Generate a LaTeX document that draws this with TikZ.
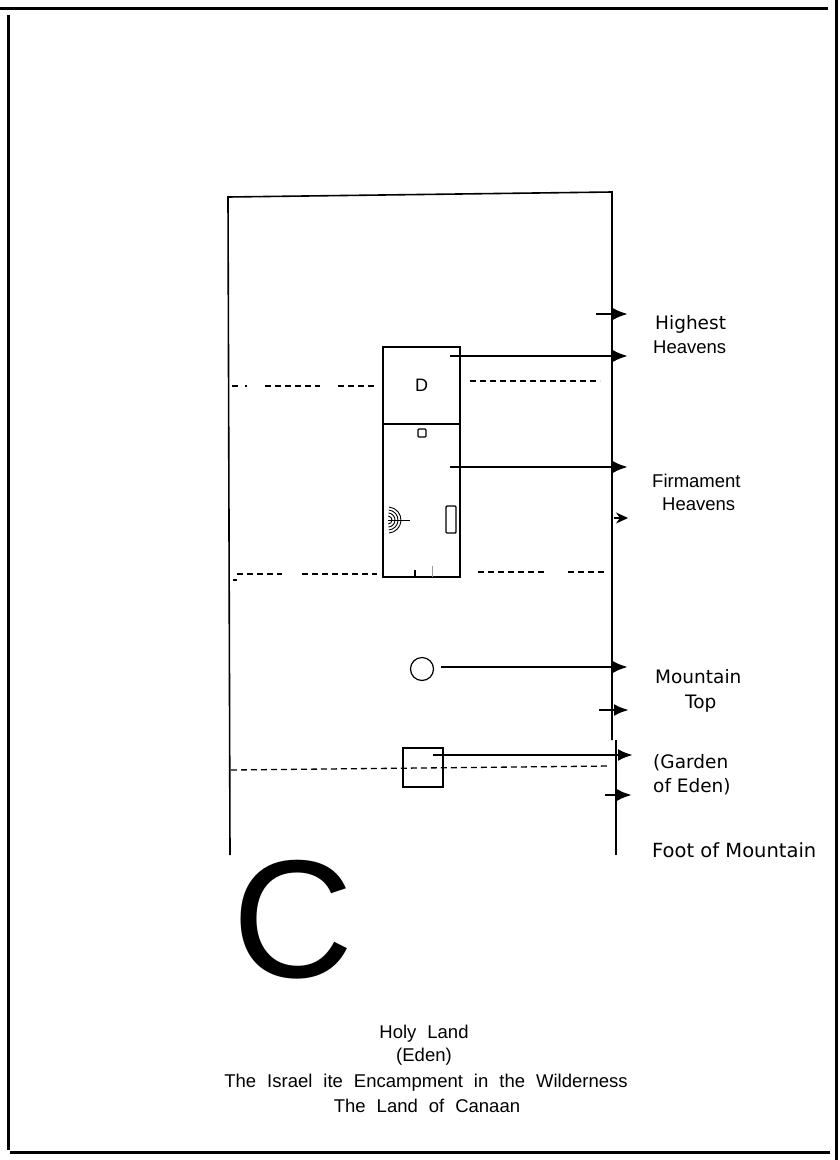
\documentclass[tikz,border=0pt]{standalone}
\usepackage{fontspec}
\setmainfont{Liberation Sans}
\newfontfamily\humanist{DejaVu Sans}
\usetikzlibrary{arrows.meta}
\tikzstyle{frame} = [line width=3pt]
\tikzstyle{wall} = [line width=1.6pt]
\tikzstyle{room} = [draw, line width=2.6pt, inner sep=0pt]
\tikzstyle{ray} = [line width=2.6pt, -{Latex[length=15pt,width=12pt]}]
\tikzstyle{tick} = [line width=1.2pt, -{Stealth[length=12pt,width=11pt]}]
\tikzstyle{level} = [line width=1.1pt, dash pattern=on 6pt off 4pt]
\tikzstyle{tag} = [font={\fontsize{18.5}{22}\selectfont}, inner sep=0pt]
\tikzstyle{hum} = [font={\humanist\fontsize{18.5}{22}\selectfont}, inner sep=0pt]
\tikzstyle{wide} = [font={\fontsize{18.5}{22}\selectfont\spaceskip=11pt plus 2pt}, inner sep=0pt]

\begin{document}
\begin{tikzpicture}[x=1pt,y=-1pt]
  \useasboundingbox (0,0) rectangle (840,1160);
  % page frame
  \draw[frame] (0,8) -- (828,8);
  \draw[frame] (8,15) -- (8,1150);
  \draw[frame] (836,0) -- (836,1160);
  \draw[frame] (10,1152) -- (830,1152);
  % mountain
  \coordinate (footl) at (230,855);
  \coordinate (topl) at (228,197);
  \coordinate (topr) at (612,192);
  \coordinate (midr) at (612,740);
  \coordinate (midr2) at (616,740);
  \coordinate (footr) at (616,855);
  \draw[wall] (footl) -- (topl) -- (topr) -- (midr);
  \draw[wall] (midr2) -- (footr);
  % tabernacle
  \node[room, minimum width=77pt, minimum height=77pt, font={\fontsize{18}{20}\selectfont}](holiest) at (421.5,385.5){D};
  \node[room, minimum width=77pt, minimum height=153pt](holy) at (421.5,500.5){};
  \node[draw, line width=1.2pt, rounded corners=1pt, minimum size=8pt, inner sep=0pt](ark) at (422,433){};
  \node[draw, line width=1.4pt, rounded corners=1pt, minimum width=10pt, minimum height=27pt, inner sep=0pt](table) at (451,519.5){};
  \coordinate (lamp) at (388,520);
  \coordinate (lampend) at (410,520);
  \foreach \r in {4,7,10,13}
    \draw[line width=0.9pt] ([shift={(-85:\r)}]lamp) arc[start angle=-85, end angle=85, radius=\r];
  \draw[line width=0.8pt] (lamp) -- (lampend);
  \draw[line width=1.2pt] (415,570) -- (415,577);
  \draw[line width=0.6pt, black!40] (432,566) -- (432,577);
  % levels
  \draw[level] (232,386) -- (238,386);
  \draw[level] (245,386) -- (247,386);
  \draw[level] (265,386) -- (320,386);
  \draw[level] (338,386) -- (377,386);
  \draw[level] (470,381) -- (600,381);
  \draw[level] (237,574) -- (282,574);
  \draw[level] (302,574) -- (377,574);
  \draw[level] (478,572) -- (545,572);
  \draw[level] (568,572) -- (607,572);
  \draw[line width=1.1pt] (233,580) -- (237,580);
  % mountain top and garden
  \node[draw, circle, line width=1.2pt, minimum size=23pt, inner sep=0pt](mount) at (422,669){};
  \node[draw, line width=2pt, minimum width=40pt, minimum height=39pt, inner sep=0pt](garden) at (423,767.5){};
  \draw[level, line width=1.3pt] (231,770) -- (610,766);
  % arrows
  \coordinate (hiS) at (596,314); \coordinate (hiT) at (628,314);
  \coordinate (dS) at (450,356); \coordinate (dT) at (628,356);
  \coordinate (fS) at (450,467); \coordinate (fT) at (628,467);
  \coordinate (fsS) at (614,518); \coordinate (fsT) at (628,518);
  \coordinate (mS) at (441,667); \coordinate (mT) at (628,667);
  \coordinate (tS) at (599,710); \coordinate (tT) at (629,710);
  \coordinate (gS) at (433,755); \coordinate (gT) at (633,755);
  \coordinate (eS) at (605,795); \coordinate (eT) at (632,795);
  \draw[ray](hiS)--(hiT);
  \draw[ray](dS)--(dT);
  \draw[ray](fS)--(fT);
  \draw[tick](fsS)--(fsT);
  \draw[ray](mS)--(mT);
  \draw[ray](tS)--(tT);
  \draw[ray](gS)--(gT);
  \draw[ray](eS)--(eT);
  % labels
  \node[hum, anchor=base west](highest) at (655,329){Highest};
  \node[tag, anchor=base west](heav1) at (653,353){Heavens};
  \node[tag, anchor=base west](firm) at (652,487){Firmament};
  \node[tag, anchor=base west](heav2) at (662,510){Heavens};
  \node[hum, anchor=base west](mtop1) at (655,683){Mountain};
  \node[hum, anchor=base west](mtop2) at (685,708){Top};
  \node[hum, anchor=base west](garden1) at (653,768){(Garden};
  \node[hum, anchor=base west](garden2) at (653,792){of Eden)};
  \node[hum, anchor=base west, font={\humanist\fontsize{19.5}{22}\selectfont}](foot) at (652,857){Foot of Mountain};
  \node[font={\fontsize{168}{170}\selectfont}, inner sep=0pt, anchor=base west](bigc) at (232,977){C};
  \node[wide, anchor=base](holyland) at (424,1038){Holy Land};
  \node[tag, anchor=base](eden) at (424,1061){(Eden)};
  \node[wide, anchor=base](camp) at (426,1087){The Israel ite Encampment in the Wilderness};
  \node[wide, anchor=base](canaan) at (427,1112){The Land of Canaan};
\end{tikzpicture}
\end{document}
